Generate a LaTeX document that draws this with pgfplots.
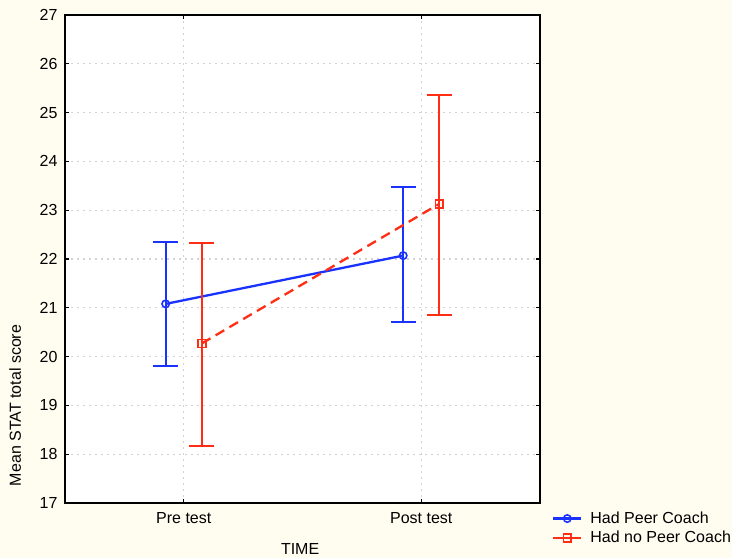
\documentclass[border=0pt]{standalone}
\usepackage{fontspec}
\setmainfont{Liberation Sans}
\usepackage{pgfplots}
\pgfplotsset{compat=1.18}
\definecolor{bgc}{RGB}{255,252,240}
\definecolor{sblue}{RGB}{25,50,255}
\definecolor{sred}{RGB}{255,45,20}
\begin{document}
\fontsize{16pt}{18pt}\selectfont
\begin{tikzpicture}[x=1pt,y=1pt]
\fill[bgc] (0,0) rectangle (732,558);
\useasboundingbox (0,0) rectangle (732,558);
\begin{axis}[
  at={(65pt,55pt)}, anchor=south west,
  scale only axis, width=475pt, height=488pt,
  xmin=-0.5, xmax=1.5, ymin=17, ymax=27,
  xtick={0,1}, xticklabels={Pre test, Post test},
  ytick={17,18,...,27},
  /pgf/number format/assume math mode=true,
  tick label style={font=\fontsize{16pt}{18pt}\selectfont},
  label style={font=\fontsize{16pt}{18pt}\selectfont},
  tick align=inside, major tick length=4pt,
  tick style={black, line width=1.2pt},
  axis line style={black, line width=1.8pt},
  axis background/.style={fill=white},
  grid=major, grid style={dash pattern=on 2pt off 4pt, gray!35, line width=1.2pt},
  xlabel={TIME},
  xlabel style={at={(axis description cs:0.495,-0.094)}, anchor=center},
  ylabel={Mean STAT total score},
  ylabel style={at={(axis description cs:-0.105,0.2)}, anchor=center},
  xticklabel style={yshift=-4pt},
  yticklabel style={xshift=-2pt},
  legend style={at={(axis description cs:1.023,-0.012)}, anchor=north west,
    draw=none, fill=bgc, font=\fontsize{16pt}{18pt}\selectfont,
    row sep=2.5pt, inner sep=1pt, nodes={inner xsep=4pt, inner ysep=1.5pt},
    /tikz/every odd column/.append style={column sep=4pt}},
  legend cell align=left,
  legend image code/.code={%
    \draw[#1, solid] (0pt,0pt) -- (28pt,0pt);
    \draw[#1, solid] plot coordinates {(14pt,0pt)};},
]
\addplot[sblue, line width=2.3pt, mark=o, mark size=3.7pt,
  mark options={solid, fill=white, line width=1.6pt},
  error bars/.cd, y dir=both, y explicit,
  error bar style={line width=2pt, solid},
  error mark options={rotate=90, mark size=12.5pt, line width=2pt}]
  coordinates {
  (-0.076,21.08) += (0,1.27) -= (0,1.27)
  (0.924,22.07) += (0,1.41) -= (0,1.36)
  };
\addlegendentry{Had Peer Coach}
\addplot[sred, line width=2.3pt, dash pattern=on 10pt off 6pt, mark=square, mark size=3.9pt,
  mark options={solid, fill=white, line width=1.6pt},
  error bars/.cd, y dir=both, y explicit,
  error bar style={line width=2pt, solid},
  error mark options={rotate=90, mark size=12.5pt, line width=2pt, solid}]
  coordinates {
  (0.076,20.27) += (0,2.06) -= (0,2.10)
  (1.076,23.13) += (0,2.23) -= (0,2.28)
  };
\addlegendentry{Had no Peer Coach}
\end{axis}
\end{tikzpicture}
\end{document}
